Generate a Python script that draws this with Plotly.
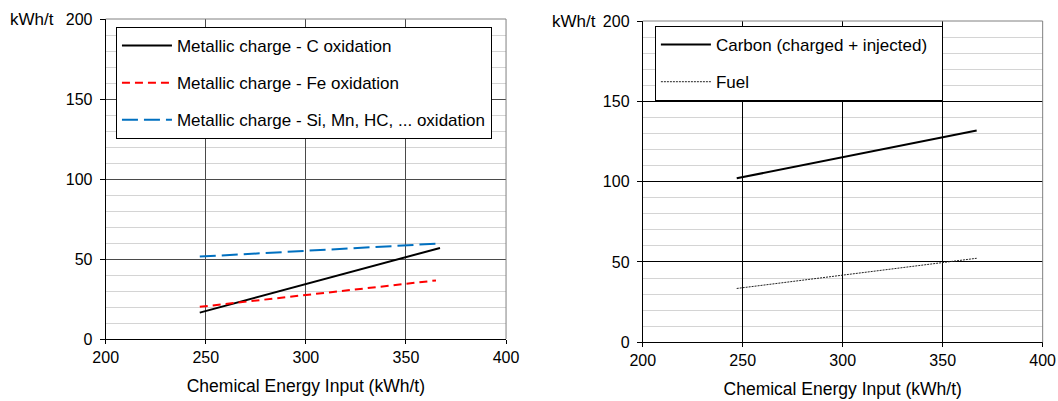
import plotly.graph_objects as go

# ---- data ----
x_left = [247, 367]
c_oxid = [16.5, 56.9]
x_fe = [247, 365]
fe_oxid = [20.1, 36.6]
x_si = [247, 367]
si_oxid = [51.5, 59.7]

x_right = [247, 367]
carbon = [102.1, 131.8]
fuel = [33.5, 52.3]

x_ticks = [200, 250, 300, 350, 400]
y_ticks = [0, 50, 100, 150, 200]

FONT = "Liberation Sans, Arial, sans-serif"

fig = go.Figure()

fig.add_trace(go.Scatter(x=x_left, y=c_oxid, mode="lines", name="Metallic charge - C oxidation",
                         line=dict(color="black", width=2), xaxis="x", yaxis="y",
                         legend="legend", legendgroup="a"))
fig.add_trace(go.Scatter(x=x_fe, y=fe_oxid, mode="lines", name="Metallic charge - Fe oxidation",
                         line=dict(color="#FF0000", width=2, dash="8px,5px"), xaxis="x", yaxis="y",
                         legend="legend", legendgroup="b"))
fig.add_trace(go.Scatter(x=x_si, y=si_oxid, mode="lines", name="Metallic charge - Si, Mn, HC, ... oxidation",
                         line=dict(color="#0070C0", width=2, dash="16px,6px"), xaxis="x", yaxis="y",
                         legend="legend", legendgroup="c"))

fig.add_trace(go.Scatter(x=x_right, y=carbon, mode="lines", name="Carbon (charged + injected)\u00a0\u00a0",
                         line=dict(color="black", width=2), xaxis="x2", yaxis="y2",
                         legend="legend2", legendgroup="d"))
fig.add_trace(go.Scatter(x=x_right, y=fuel, mode="lines", name="Fuel",
                         line=dict(color="#222222", width=1, dash="2px,1px"), xaxis="x2", yaxis="y2",
                         legend="legend2", legendgroup="e"))


def xax(domain, anchor, gridc):
    return dict(domain=domain, anchor=anchor, range=[200, 400], tickvals=x_ticks,
                showgrid=True, gridcolor=gridc, gridwidth=1,
                showline=True, linecolor="black", linewidth=1,
                ticks="outside", ticklen=4, tickcolor="black",
                tickfont=dict(family=FONT, size=16, color="black"),
                title=dict(text="Chemical Energy Input (kWh/t)", font=dict(family=FONT, size=17.5, color="black"),
                           standoff=14),
                automargin=False,
                zeroline=False, fixedrange=True)


def yax(domain, anchor, gridc):
    return dict(domain=domain, anchor=anchor, range=[0, 200], tickvals=y_ticks,
                showgrid=True, gridcolor=gridc, gridwidth=1,
                minor=dict(dtick=10, showgrid=True, gridcolor="#d4d4d4", gridwidth=1),
                showline=True, linecolor="black", linewidth=1,
                ticks="outside", ticklen=5, tickcolor="black",
                ticklabelstandoff=4,
                tickfont=dict(family=FONT, size=16, color="black"),
                automargin=False,
                zeroline=False, fixedrange=True)


fig.update_layout(
    width=1058, height=401,
    margin=dict(l=0, r=0, t=0, b=0, autoexpand=False),
    paper_bgcolor="white", plot_bgcolor="white",
    font=dict(family=FONT, size=16, color="black"),
    xaxis=xax([0.0999, 0.4783], "y", "#4a4a4a"),
    yaxis=yax([0.1546, 0.9526], "x", "#4a4a4a"),
    xaxis2=xax([0.6075, 0.9855], "y2", "black"),
    yaxis2=yax([0.1464, 0.9476], "x2", "black"),
    legend=dict(x=0.1096, y=0.9327, xanchor="left", yanchor="top",
                bgcolor="white", bordercolor="black", borderwidth=1,
                font=dict(family=FONT, size=17, color="black"),
                tracegroupgap=12, itemwidth=50, traceorder="grouped"),
    legend2=dict(x=0.619, y=0.935, xanchor="left", yanchor="top",
                 bgcolor="white", bordercolor="black", borderwidth=1,
                 font=dict(family=FONT, size=17, color="black"),
                 tracegroupgap=12, itemwidth=50, traceorder="grouped"),
    showlegend=True,
)

# gray frame (top / right) like the reference
for xr, yr in (("x", "y"), ("x2", "y2")):
    fig.add_shape(type="line", xref=f"{xr} domain", yref=f"{yr} domain", x0=0, x1=1, y0=1, y1=1,
                  line=dict(color="#808080", width=1), layer="above")
    fig.add_shape(type="line", xref=f"{xr} domain", yref=f"{yr} domain", x0=1, x1=1, y0=0, y1=1,
                  line=dict(color="#808080", width=1), layer="above")

fig.add_annotation(text="kWh/t", xref="paper", yref="y", x=8 / 1058, y=200, xanchor="left",
                   yanchor="middle", showarrow=False, font=dict(family=FONT, size=17, color="black"))
fig.add_annotation(text="kWh/t", xref="paper", yref="y2", x=550 / 1058, y=200, xanchor="left",
                   yanchor="middle", showarrow=False, font=dict(family=FONT, size=17, color="black"))

fig.write_html("out.html")
